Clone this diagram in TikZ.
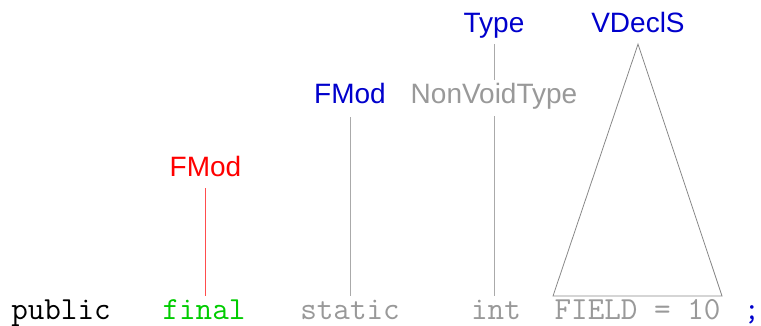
\documentclass[tikz,border=0pt]{standalone}
\usepackage{fontspec}
\setmainfont{Liberation Sans}
\definecolor{lblblue}{HTML}{0000CC}
\definecolor{lblred}{HTML}{FF0000}
\definecolor{linered}{HTML}{FF4D4D}
\definecolor{tokgreen}{HTML}{00CC00}
\definecolor{txtgray}{HTML}{999999}
\definecolor{linegray}{HTML}{AAAAAA}
\definecolor{trigray}{HTML}{888888}
\tikzset{
  lbl/.style={anchor=base, inner sep=0pt, text height=23pt, text depth=0pt, font=\fontsize{28}{30}\selectfont},
  tok/.style={anchor=base, inner sep=0pt, text height=23pt, text depth=0pt, font=\fontsize{32.2}{34}\selectfont\ttfamily},
  conn/.style={line width=1pt, draw=linegray},
  redconn/.style={line width=1.4pt, draw=linered},
}
\begin{document}
\begin{tikzpicture}[x=1pt,y=-1pt]
\useasboundingbox (0,0) rectangle (761,325);
% tokens
\node[tok, text=black] (public) at (61,319) {public};
\node[tok, text=tokgreen] (final) at (204,319) {final};
\node[tok, text=txtgray] (static) at (350,319) {static};
\node[tok, text=txtgray] (int) at (496,319) {int};
\node[tok, text=txtgray] (field) at (637.5,319) {FIELD = 10};
\node[tok, text=lblblue] (semi) at (752,319) {;};
% labels
\node[lbl, text=lblred] (fmodred) at (205.5,176) {FMod};
\node[lbl, text=lblblue] (fmodblue) at (350,103) {FMod};
\node[lbl, text=txtgray] (nvt) at (494,103) {NonVoidType};
\node[lbl, text=lblblue] (type) at (494,32) {Type};
\node[lbl, text=lblblue] (vdecls) at (638,32) {VDeclS};
% connectors
\draw[redconn, shorten <=12pt] (fmodred.south) -- (fmodred.south |- final.north);
\draw[conn, shorten <=14pt] (fmodblue.south) -- (fmodblue.south |- static.north);
\draw[conn, shorten <=12pt] (type.south) -- (type.south |- nvt.north);
\draw[conn, shorten <=13pt] (nvt.south) -- (nvt.south |- int.north);
\coordinate (apex) at ([yshift=-12pt]vdecls.south);
\coordinate (bl) at (553,296);
\coordinate (br) at (722,296);
\draw[line width=0.8pt, draw=trigray, line join=miter] (apex) -- (bl) -- (br) -- cycle;
\end{tikzpicture}
\end{document}
